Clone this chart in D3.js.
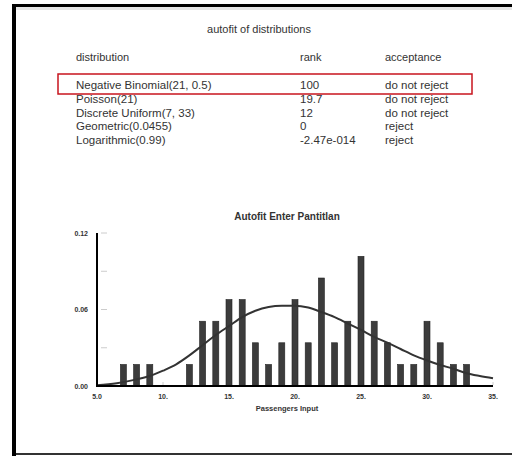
<!DOCTYPE html>
<html>
<head>
<meta charset="utf-8">
<script src="https://cdn.jsdelivr.net/npm/d3@7"></script>
<style>
  body { margin: 0; background: #fff; }
  text { font-family: "Liberation Sans", Arial, sans-serif; fill: #333; }
</style>
</head>
<body>
<div id="chart"></div>
<script>
// table of fitted distributions
var distNames = ["Negative Binomial(21, 0.5)", "Poisson(21)", "Discrete Uniform(7, 33)", "Geometric(0.0455)", "Logarithmic(0.99)"];
var distRanks = ["100", "19.7", "12", "0", "-2.47e-014"];
var distAccept = ["do not reject", "do not reject", "do not reject", "reject", "reject"];

// histogram (value, relative frequency)
var binValues = [7, 8, 9, 12, 13, 14, 15, 16, 17, 18, 19, 20, 21, 22, 23, 24, 25, 26, 27, 28, 29, 30, 31, 32, 33];
var binFreqs = [0.0169, 0.0169, 0.0169, 0.0169, 0.0508, 0.0508, 0.0678, 0.0678, 0.0339, 0.0169, 0.0339, 0.0678, 0.0339,
                0.0847, 0.0339, 0.0508, 0.1017, 0.0508, 0.0339, 0.0169, 0.0169, 0.0508, 0.0339, 0.0169, 0.0169];

// fitted curve
var curveX = [5, 6.5, 8, 9, 10, 11, 12, 13, 14, 15, 16, 17, 18, 19, 20, 21, 22, 23, 24, 25, 26, 27, 28, 29, 30, 31, 32, 33, 34, 35];
var curveY = [0.0006, 0.0022, 0.0052, 0.0078, 0.012, 0.017, 0.024, 0.032, 0.040, 0.047, 0.054, 0.059, 0.062, 0.063, 0.063,
              0.0615, 0.058, 0.054, 0.049, 0.044, 0.0385, 0.034, 0.029, 0.024, 0.020, 0.0165, 0.0135, 0.010, 0.0078, 0.006];

var xTicks = [5, 10, 15, 20, 25, 30, 35];
var xTickLabels = ["5.0", "10.", "15.", "20.", "25.", "30.", "35."];
var yTicks = [0, 0.06, 0.12];
var yMinor = [0.03, 0.06, 0.09, 0.12];

var W = 512, H = 456;
var svg = d3.select("#chart").append("svg")
  .attr("width", W)
  .attr("height", H);

// frame
svg.append("rect").attr("x", 16).attr("y", 7).attr("width", W - 16).attr("height", 3).attr("fill", "#e6e6e6");
svg.append("rect").attr("x", 12).attr("y", 4).attr("width", W - 12).attr("height", 3).attr("fill", "#000");
svg.append("rect").attr("x", 12).attr("y", 4).attr("width", 4).attr("height", H - 4).attr("fill", "#000");
svg.append("rect").attr("x", 16).attr("y", 453).attr("width", W - 16).attr("height", 2).attr("fill", "#333");

// table
svg.append("text").attr("x", 259).attr("y", 33).attr("text-anchor", "middle")
  .attr("font-size", "11px").text("autofit of distributions");

var cols = [76, 300, 385];
var headers = ["distribution", "rank", "acceptance"];
svg.selectAll(".hdr").data(headers).enter().append("text")
  .attr("x", function(d, i) { return cols[i]; })
  .attr("y", 61)
  .attr("font-size", "11px")
  .text(function(d) { return d; });

var rowY = d3.scaleLinear().domain([0, 4]).range([89, 144]);
var rows = svg.append("g");
distNames.forEach(function(n, i) {
  var vals = [n, distRanks[i], distAccept[i]];
  vals.forEach(function(v, j) {
    rows.append("text")
      .attr("x", cols[j])
      .attr("y", rowY(i))
      .attr("font-size", "11.5px")
      .text(v);
  });
});

svg.append("rect").attr("x", 58).attr("y", 74).attr("width", 414).attr("height", 20)
  .attr("fill", "none").attr("stroke", "#c8141e").attr("stroke-width", 1.5);

// histogram
var x = d3.scaleLinear().domain([5, 35]).range([97, 493]);
var y = d3.scaleLinear().domain([0, 0.12]).range([386, 233]);

svg.append("text").attr("x", 287).attr("y", 220).attr("text-anchor", "middle")
  .attr("font-size", "10px").attr("font-weight", "bold").text("Autofit Enter Pantitlan");

// faint tick marks
svg.selectAll(".ym").data(yMinor).enter().append("line")
  .attr("x1", 101).attr("x2", 107)
  .attr("y1", function(d) { return y(d); }).attr("y2", function(d) { return y(d); })
  .attr("stroke", "#ccc").attr("stroke-width", 1);
svg.selectAll(".xm").data(xTicks.slice(1)).enter().append("line")
  .attr("x1", function(d) { return x(d); }).attr("x2", function(d) { return x(d); })
  .attr("y1", 382).attr("y2", 385)
  .attr("stroke", "#ccc").attr("stroke-width", 1);

svg.selectAll(".bar").data(binValues).enter().append("rect")
  .attr("x", function(d) { return x(d) - 3; })
  .attr("y", function(d, i) { return y(binFreqs[i]); })
  .attr("width", 6)
  .attr("height", function(d, i) { return y(0) - y(binFreqs[i]); })
  .attr("fill", "#3c3c3c")
  .attr("stroke", "#222")
  .attr("stroke-width", 0.6);

var line = d3.line()
  .x(function(d, i) { return x(curveX[i]); })
  .y(function(d) { return y(d); })
  .curve(d3.curveMonotoneX);
svg.append("path").datum(curveY)
  .attr("d", line)
  .attr("fill", "none")
  .attr("stroke", "#333")
  .attr("stroke-width", 2);

// axes
svg.append("line").attr("x1", x(5)).attr("x2", x(5)).attr("y1", y(0.12)).attr("y2", y(0) + 1)
  .attr("stroke", "#000").attr("stroke-width", 2);
svg.append("line").attr("x1", x(5) - 1).attr("x2", x(35)).attr("y1", y(0)).attr("y2", y(0))
  .attr("stroke", "#000").attr("stroke-width", 2);

svg.selectAll(".yl").data(yTicks).enter().append("text")
  .attr("x", 88)
  .attr("y", function(d) { return y(d) + 2.5; })
  .attr("text-anchor", "end")
  .attr("font-size", "7px")
  .attr("font-weight", "bold")
  .attr("fill", "#555")
  .text(function(d) { return d.toFixed(2); });

svg.selectAll(".xl").data(xTicks).enter().append("text")
  .attr("x", function(d) { return x(d); })
  .attr("y", 399)
  .attr("text-anchor", "middle")
  .attr("font-size", "7px")
  .attr("font-weight", "bold")
  .attr("fill", "#555")
  .text(function(d, i) { return xTickLabels[i]; });

svg.append("text").attr("x", 287).attr("y", 411).attr("text-anchor", "middle")
  .attr("font-size", "7.5px").attr("font-weight", "bold").attr("fill", "#444")
  .text("Passengers Input");
</script>
</body>
</html>
